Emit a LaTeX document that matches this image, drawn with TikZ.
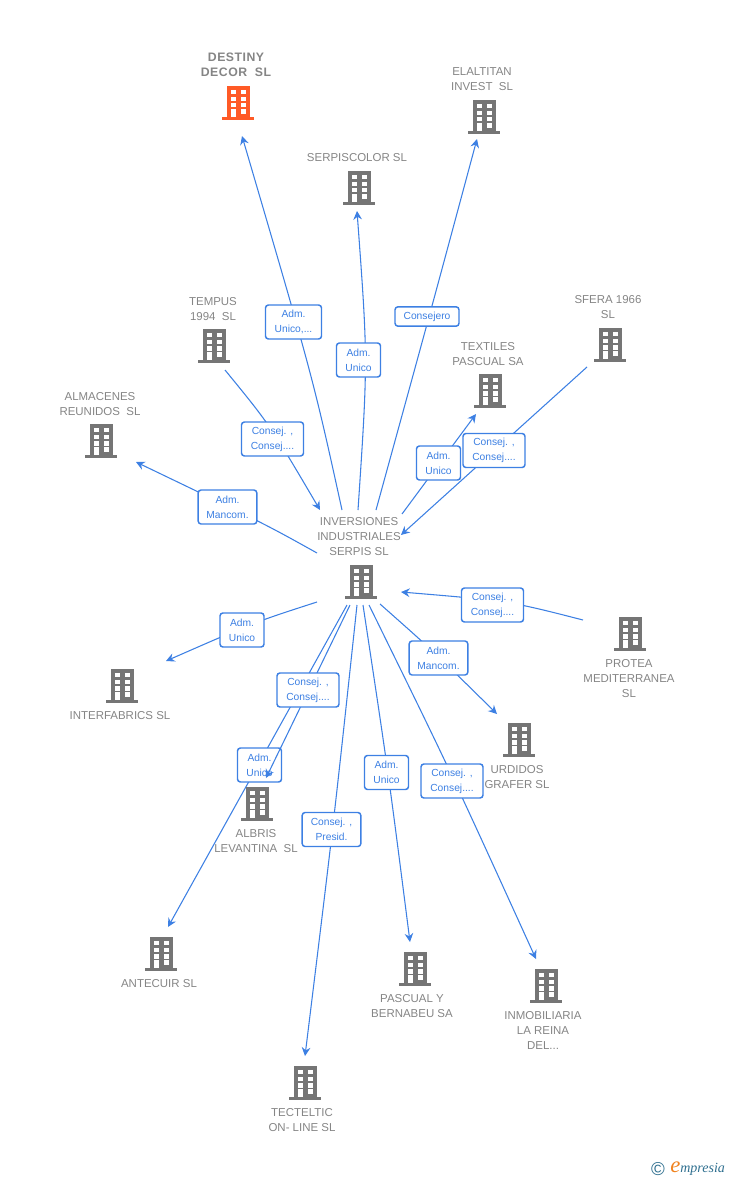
\documentclass[tikz,border=0pt]{standalone}
\usepackage{fontspec}
\setmainfont{Liberation Sans}
\newfontfamily\logofont{Liberation Serif}
\usetikzlibrary{arrows.meta}
\definecolor{linkblue}{HTML}{3D80E3}
\definecolor{namegray}{HTML}{858585}
\definecolor{iconbody}{HTML}{757575}
\definecolor{iconhot}{HTML}{FF5A26}
\definecolor{logoteal}{HTML}{2F6F8F}
\definecolor{logoorange}{HTML}{F0821E}
\tikzset{
  bldg/.pic={
    \fill[#1] (-11.5,-17) rectangle (11.5,14);
    \fill[#1] (-16,14) rectangle (16,17);
    \foreach \yy in {-13,-6.3,0.3}{
      \fill[white] (-7.5,\yy) rectangle ++(5,4.2);
      \fill[white] (2.5,\yy) rectangle ++(5,4.2);
    }
    \fill[white] (-7.5,6.3) rectangle (-2.5,14);
    \fill[white] (2.5,6.3) rectangle (7.5,11);
  },
  nm/.style={text=namegray,font=\fontsize{8.6pt}{11.25pt}\selectfont,align=center,inner sep=0pt,yshift=-0.5pt},
  lbl/.style={draw=linkblue,line width=1.1pt,rounded corners=2.2pt,fill=white,text=linkblue,
    font=\fontsize{7.7pt}{11.25pt}\selectfont,align=center,inner sep=0pt,minimum height=25.5pt},
  link/.style={draw=linkblue,line width=0.8pt},
  arrowed/.style={link,-{Stealth[length=6.5pt,width=6.5pt,inset=2.2pt]}}
}
\begin{document}
\begin{tikzpicture}[x=0.75pt,y=-0.75pt]
\useasboundingbox (0,0) rectangle (728,1180);

% free connector ends
\coordinate (s1) at (342,510); \coordinate (e1) at (242,136);
\coordinate (s2) at (358,510); \coordinate (e2) at (357,211);
\coordinate (s3) at (376,510); \coordinate (e3) at (477,139);
\coordinate (s4) at (225,370); \coordinate (e4) at (320,510);
\coordinate (s5) at (317,553); \coordinate (e5) at (136,462);
\coordinate (s6) at (402,514); \coordinate (e6) at (476,414);
\coordinate (s7) at (587,367); \coordinate (e7) at (401,535);
\coordinate (s8) at (583,620); \coordinate (e8) at (401,592);
\coordinate (s9) at (317,602); \coordinate (e9) at (166,661);
\coordinate (s10) at (350,605); \coordinate (e10) at (266,778);
\coordinate (s11) at (347,605); \coordinate (e11) at (168,927);
\coordinate (s12) at (357,605); \coordinate (e12) at (305,1056);
\coordinate (s13) at (363,605); \coordinate (e13) at (410,942);
\coordinate (s14) at (369,605); \coordinate (e14) at (536,959);
\coordinate (s15) at (380,604); \coordinate (e15) at (497,714);

% connectors, each followed by its label
\draw[arrowed] (s1) .. controls (313,378) .. (e1);
\node[lbl,minimum width=42pt] (l1) at (293.5,322) {Adm.\\Unico,...};
\draw[arrowed] (s2) .. controls (368,360) .. (e2);
\node[lbl,minimum width=33pt] (l2) at (358.5,360) {Adm.\\Unico};
\draw[arrowed] (s3) .. controls (431,310) .. (e3);
\node[lbl,minimum width=48pt,minimum height=14.5pt] (l3) at (427,316.5) {Consejero};
\draw[arrowed] (s4) .. controls (270,425) .. (e4);
\node[lbl,minimum width=46.5pt] (l4) at (272.5,439) {Consej. ,\\Consej....};
\draw[arrowed] (s5) .. controls (265,524) .. (e5);
\node[lbl,minimum width=44pt] (l5) at (227.5,507) {Adm.\\Mancom.};
\draw[arrowed] (s6) -- (e6);
\node[lbl,minimum width=33pt] (l6) at (438.5,463) {Adm.\\Unico};
\draw[arrowed] (s7) -- (e7);
\node[lbl,minimum width=46.5pt] (l7) at (494,450.5) {Consej. ,\\Consej....};
\draw[arrowed] (s8) .. controls (509,601) .. (e8);
\node[lbl,minimum width=46.5pt] (l8) at (492.5,605) {Consej. ,\\Consej....};
\draw[arrowed] (s9) .. controls (255,622) .. (e9);
\node[lbl,minimum width=33pt] (l9) at (242,630) {Adm.\\Unico};
\draw[arrowed] (s11) -- (e11);
\node[lbl,minimum width=33pt] (l11) at (259.5,765) {Adm.\\Unico};
\draw[arrowed] (s10) -- (e10);
\node[lbl,minimum width=46.5pt] (l10) at (308,690) {Consej. ,\\Consej....};
\draw[arrowed] (s12) .. controls (334,820) .. (e12);
\node[lbl,minimum width=44pt] (l12) at (331.5,829.5) {Consej. ,\\Presid.};
\draw[arrowed] (s13) .. controls (388,770) .. (e13);
\node[lbl,minimum width=33pt] (l13) at (386.5,772.5) {Adm.\\Unico};
\draw[arrowed] (s14) .. controls (450,770) .. (e14);
\node[lbl,minimum width=46.5pt] (l14) at (452,781) {Consej. ,\\Consej....};
\draw[arrowed] (s15) .. controls (432,650) .. (e15);
\node[lbl,minimum width=44pt] (l15) at (438.5,658) {Adm.\\Mancom.};

% buildings
\pic at (238,103) {bldg=iconhot};
\pic at (484,117) {bldg=iconbody};
\pic at (359,188) {bldg=iconbody};
\pic at (214,346) {bldg=iconbody};
\pic at (101,441) {bldg=iconbody};
\pic at (490,391) {bldg=iconbody};
\pic at (610,345) {bldg=iconbody};
\pic at (361,582) {bldg=iconbody};
\pic at (630,634) {bldg=iconbody};
\pic at (122,686) {bldg=iconbody};
\pic at (519,740) {bldg=iconbody};
\pic at (257,804) {bldg=iconbody};
\pic at (161,954) {bldg=iconbody};
\pic at (415,969) {bldg=iconbody};
\pic at (546,986) {bldg=iconbody};
\pic at (305,1083) {bldg=iconbody};

% names
\node[nm,font=\fontsize{9.2pt}{11.25pt}\selectfont\bfseries\addfontfeature{LetterSpace=4}] (n1) at (236,64) {DESTINY\\DECOR\ \ SL};
\node[nm] (n2) at (482,78.5) {ELALTITAN\\INVEST\ \ SL};
\node[nm] (n3) at (357,157) {SERPISCOLOR SL};
\node[nm] (n4) at (213,308.5) {TEMPUS\\1994\ \ SL};
\node[nm] (n5) at (100,403) {ALMACENES\\REUNIDOS\ \ SL};
\node[nm] (n6) at (488,353) {TEXTILES\\PASCUAL SA};
\node[nm] (n7) at (608,306.5) {SFERA 1966\\SL};
\node[nm] (n8) at (359,536) {INVERSIONES\\INDUSTRIALES\\SERPIS SL};
\node[nm] (n9) at (629,678) {PROTEA\\MEDITERRANEA\\SL};
\node[nm] (n10) at (120,715) {INTERFABRICS SL};
\node[nm] (n11) at (517,776.5) {URDIDOS\\GRAFER SL};
\node[nm] (n12) at (256,840.5) {ALBRIS\\LEVANTINA\ \ SL};
\node[nm] (n13) at (159,983) {ANTECUIR SL};
\node[nm] (n14) at (412,1005.5) {PASCUAL Y\\BERNABEU SA};
\node[nm] (n15) at (543,1030) {INMOBILIARIA\\LA REINA\\DEL...};
\node[nm] (n16) at (302,1119.5) {TECTELTIC\\ON- LINE SL};

% logo
\node[inner sep=0pt,text=logoteal,font=\fontsize{14pt}{14pt}\selectfont] (copyr) at (658,1169) {©};
\node[inner sep=0pt,anchor=west,font=\logofont\itshape\fontsize{10.5pt}{10pt}\selectfont,text=logoteal] (brand) at (670,1169)
  {\textcolor{logoorange}{\fontsize{17pt}{10pt}\selectfont e}mpresia};
\end{tikzpicture}
\end{document}
